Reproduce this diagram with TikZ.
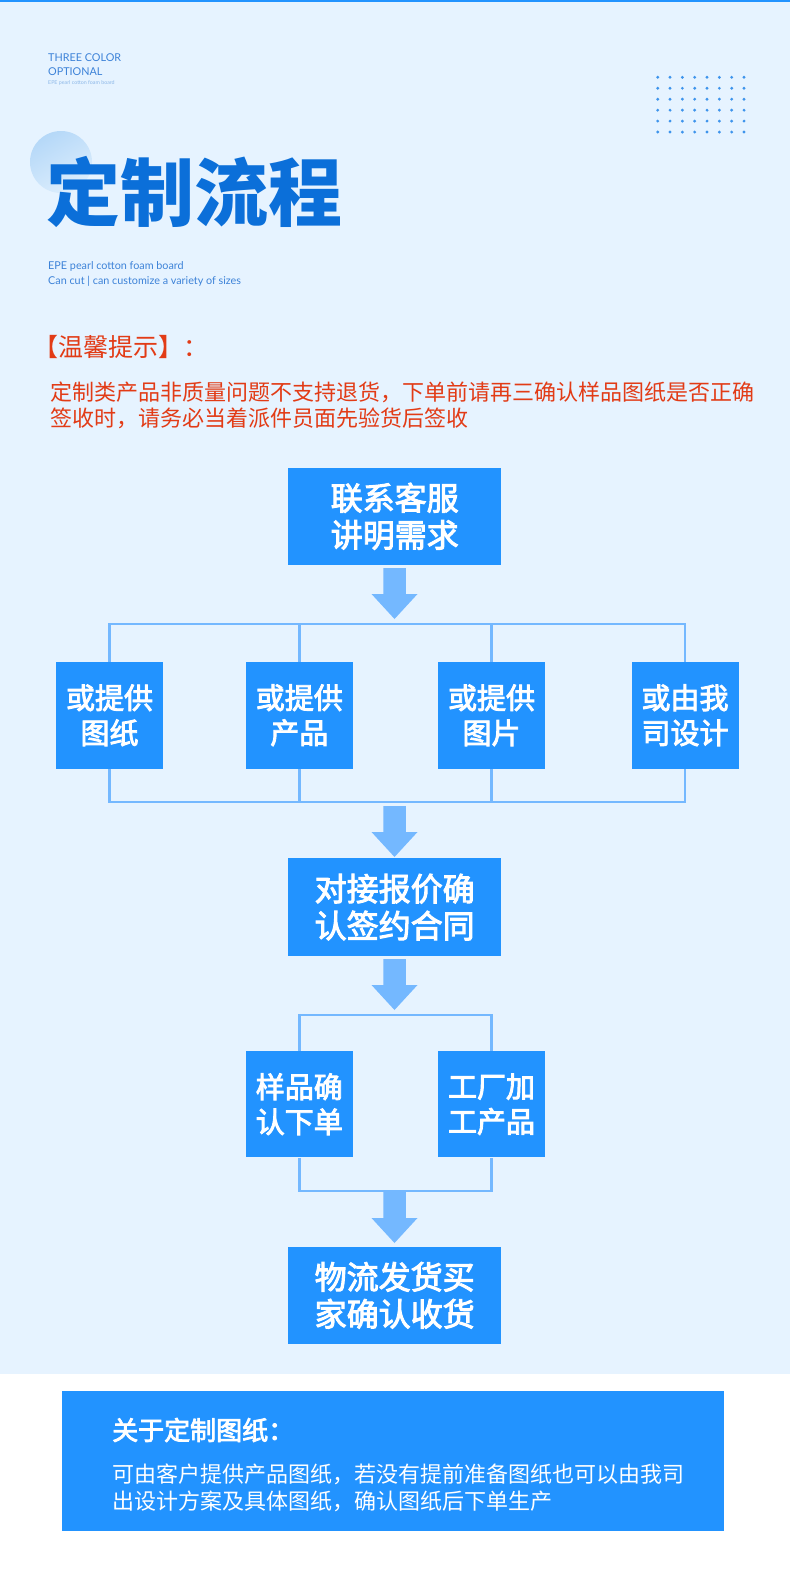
\documentclass[tikz,border=0pt]{standalone}
\usepackage{fontspec}
\newfontfamily\cjk{Noto Sans CJK SC}
\newfontfamily\cjkm[FakeBold=3]{Noto Sans CJK SC}
\newfontfamily\lat{Lato}
\definecolor{bg}{HTML}{E6F3FF}
\definecolor{boxblue}{HTML}{2293FF}
\definecolor{connc}{HTML}{74B8FF}
\definecolor{titleblue}{HTML}{0B6FD9}
\definecolor{engblue}{HTML}{3C82D8}
\definecolor{engpale}{HTML}{8DB8E8}
\definecolor{warnred}{HTML}{E23B16}
\definecolor{dotblue}{HTML}{3E94EC}
\definecolor{circa}{HTML}{B5D8F8}
\definecolor{circb}{HTML}{DDEEFD}
\newcommand\fatarr[1]{\fill[connc] (#1) ++(-11.25,0) -- ++(22.5,0) -- ++(0,26) -- ++(11.75,0) -- ++(-23,25) -- ++(-23,-25) -- ++(11.75,0) -- cycle;}
\begin{document}
\begin{tikzpicture}[x=1pt,y=-1pt,
  bigbox/.style={fill=boxblue,text=white,inner sep=0pt,align=center,minimum width=213.5pt,minimum height=97.5pt,font=\cjkm\fontsize{32}{37}\selectfont},
  smallbox/.style={fill=boxblue,text=white,inner sep=0pt,align=center,minimum width=107pt,minimum height=106.5pt,font=\cjkm\fontsize{29}{35}\selectfont},
  connline/.style={draw=connc,line width=2.6pt},
  txt/.style={inner sep=0pt,anchor=west}]
\useasboundingbox (0,0) rectangle (790,1571);
\fill[white] (0,0) rectangle (790,1571);
\fill[bg] (0,0) rectangle (790,1374);
\fill[boxblue] (0,0) rectangle (790,2);
% header
\shade[top color=circa,bottom color=circb,shading angle=30] (61,162) circle (31pt);
\node[txt,text=engblue,font=\lat\fontsize{10.8}{12}\selectfont] (h1) at (48,58) {THREE COLOR};
\node[txt,text=engblue,font=\lat\fontsize{10.8}{12}\selectfont] (h2) at (48,72) {OPTIONAL};
\node[txt,text=engpale,font=\lat\fontsize{5.3}{6}\selectfont] (h3) at (48,83) {EPE pearl cotton foam board};
\node[txt,text=titleblue,font=\cjk\bfseries\fontsize{74}{74}\selectfont] (title) at (46,192) {定制流程};
\node[txt,text=engblue,font=\lat\fontsize{10.8}{12}\selectfont] (s1) at (48,266.7) {EPE pearl cotton foam board};
\node[txt,text=engblue,font=\lat\fontsize{10.8}{12}\selectfont] (s2) at (48,281.7) {Can cut | can customize a variety of sizes};
\foreach \i in {0,...,7}{\foreach \j in {0,...,5}{\fill[dotblue] (657.7+12.33*\i,77.3+10.95*\j) circle (1.6pt);}}
% warning
\node[txt,text=warnred,font=\cjk\fontsize{25}{25}\selectfont] (w0) at (33,347) {【温馨提示】：};
\node[txt,text=warnred,font=\cjk\fontsize{22}{22}\selectfont] (w1) at (50,392) {定制类产品非质量问题不支持退货，下单前请再三确认样品图纸是否正确};
\node[txt,text=warnred,font=\cjk\fontsize{22}{22}\selectfont] (w2) at (50,418) {签收时，请务必当着派件员面先验货后签收};
% flow
\node[bigbox] (b1) at (394.7,516.3) {联系客服\\讲明需求};
\node[smallbox] (o1) at (109.5,715.3) {或提供\\图纸};
\node[smallbox] (o2) at (299.3,715.3) {或提供\\产品};
\node[smallbox] (o3) at (491.5,715.3) {或提供\\图片};
\node[smallbox] (o4) at (685,715.3) {或由我\\司设计};
\node[bigbox] (b2) at (394.7,907.1) {对接报价确\\认签约合同};
\node[smallbox] (p1) at (299.3,1104.2) {样品确\\认下单};
\node[smallbox] (p2) at (491.5,1104.2) {工厂加\\工产品};
\node[bigbox] (b3) at (394.7,1295.3) {物流发货买\\家确认收货};
% arrows
\coordinate (a1) at (394.5,568);
\coordinate (a2) at (394.5,806);
\coordinate (a3) at (394.5,959);
\coordinate (a4) at (394.5,1192);
\fatarr{a1}
\fatarr{a2}
\fatarr{a3}
\fatarr{a4}
% buses
\coordinate (busA) at (394.5,624);
\coordinate (busB) at (394.5,802);
\coordinate (busC) at (394.5,1015);
\coordinate (busD) at (394.5,1191);
\draw[connline] (o1.north) -- (o1.north |- busA) -- (o4.north |- busA) -- (o4.north);
\draw[connline] (o2.north) -- (o2.north |- busA);
\draw[connline] (o3.north) -- (o3.north |- busA);
\draw[connline] (o1.south) -- (o1.south |- busB) -- (o4.south |- busB) -- (o4.south);
\draw[connline] (o2.south) -- (o2.south |- busB);
\draw[connline] (o3.south) -- (o3.south |- busB);
\draw[connline] (p1.north) -- (p1.north |- busC) -- (p2.north |- busC) -- (p2.north);
\draw[connline] (p1.south) -- (p1.south |- busD) -- (p2.south |- busD) -- (p2.south);
% bottom note
\node[fill=boxblue,inner sep=0pt,minimum width=662pt,minimum height=139.7pt,anchor=north west] (note) at (62,1391) {};
\node[txt,text=white,font=\cjkm\fontsize{26}{26}\selectfont] (n1) at (112,1430) {关于定制图纸：};
\node[txt,text=white,font=\cjk\fontsize{22}{22}\selectfont] (n2) at (112,1474) {可由客户提供产品图纸，若没有提前准备图纸也可以由我司};
\node[txt,text=white,font=\cjk\fontsize{22}{22}\selectfont] (n3) at (112,1501) {出设计方案及具体图纸，确认图纸后下单生产};
\end{tikzpicture}
\end{document}
